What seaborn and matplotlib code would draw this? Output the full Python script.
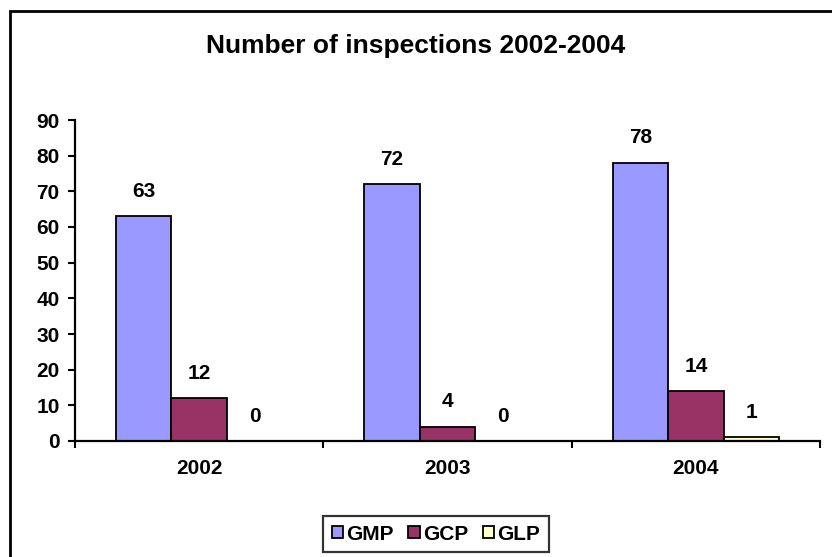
import seaborn as sns
import pandas as pd
import matplotlib.pyplot as plt
from matplotlib.patches import Rectangle

sns.set_style("white")
plt.rcParams["font.family"] = ["Liberation Sans", "DejaVu Sans"]
plt.rcParams["font.weight"] = "bold"
plt.rcParams["text.color"] = "black"
plt.rcParams["xtick.color"] = "black"
plt.rcParams["ytick.color"] = "black"

# data
years = ["2002", "2003", "2004"]
series = ["GMP", "GCP", "GLP"]
gmp = [63, 72, 78]
gcp = [12, 4, 14]
glp = [0, 0, 1]
colors = ["#9999FF", "#993366", "#FFFFCC"]

df = pd.DataFrame({
    "year": years * 3,
    "type": ["GMP"] * 3 + ["GCP"] * 3 + ["GLP"] * 3,
    "count": gmp + gcp + glp,
})

fig = plt.figure(figsize=(8.32, 5.57), dpi=100)
ax = fig.add_axes([75 / 832, 1 - 441 / 557, 745 / 832, 321 / 557])

sns.barplot(data=df, x="year", y="count", hue="type", hue_order=series,
            order=years, palette=colors, saturation=1, width=0.67,
            edgecolor="black", linewidth=1.3, ax=ax, legend=True)

# value labels
for cont in ax.containers:
    for bar in cont:
        h = bar.get_height()
        ax.annotate(f"{h:.0f}", (bar.get_x() + bar.get_width() / 2, h),
                    xytext=(0, 25), textcoords="offset pixels",
                    ha="center", va="center", fontsize=15, fontweight="bold",
                    color="black")

ax.set_ylim(0, 90)
ax.set_yticks(range(0, 91, 10))
ax.set_xlim(-0.5, 2.5)
ax.set_xlabel("")
ax.set_ylabel("")
for s in ["top", "right"]:
    ax.spines[s].set_visible(False)
for s in ["left", "bottom"]:
    ax.spines[s].set_color("black")
    ax.spines[s].set_linewidth(1.6)

ax.tick_params(axis="y", which="major", direction="out", length=5, width=1.5,
               color="black", labelsize=15, left=True, pad=6)
ax.tick_params(axis="x", which="major", length=0, labelsize=15, pad=13)
ax.set_xticks([-0.5, 0.5, 1.5, 2.5], minor=True)
ax.tick_params(axis="x", which="minor", direction="out", length=5, width=1.5,
               color="black", bottom=True)
for lab in ax.get_xticklabels() + ax.get_yticklabels():
    lab.set_fontweight("bold")

# legend
ax.legend_.remove()
handles, labels = ax.get_legend_handles_labels()
leg = fig.legend(handles[:3], labels[:3], loc="center",
                 bbox_to_anchor=(436 / 832, 1 - 534 / 557), ncol=3,
                 frameon=True, fancybox=False, edgecolor="black",
                 handlelength=0.55, handleheight=0.55, handletextpad=0.15,
                 columnspacing=0.7, borderpad=0.4,
                 prop={"size": 15, "weight": "bold"})
leg.get_frame().set_linewidth(1.6)
for t in leg.get_texts():
    t.set_color("black")
    t.set_fontweight("bold")

fig.text(0.5, 1 - 46 / 557, "Number of inspections 2002-2004",
         ha="center", va="center", fontsize=19, fontweight="bold",
         color="black")

# outer chart border
fig.patches.append(Rectangle((10 / 832, -0.1), 1.0, 1 - 11 / 557 + 0.1,
                             transform=fig.transFigure, fill=False,
                             edgecolor="black", linewidth=2.0))

plt.savefig("out.png", dpi=100)
